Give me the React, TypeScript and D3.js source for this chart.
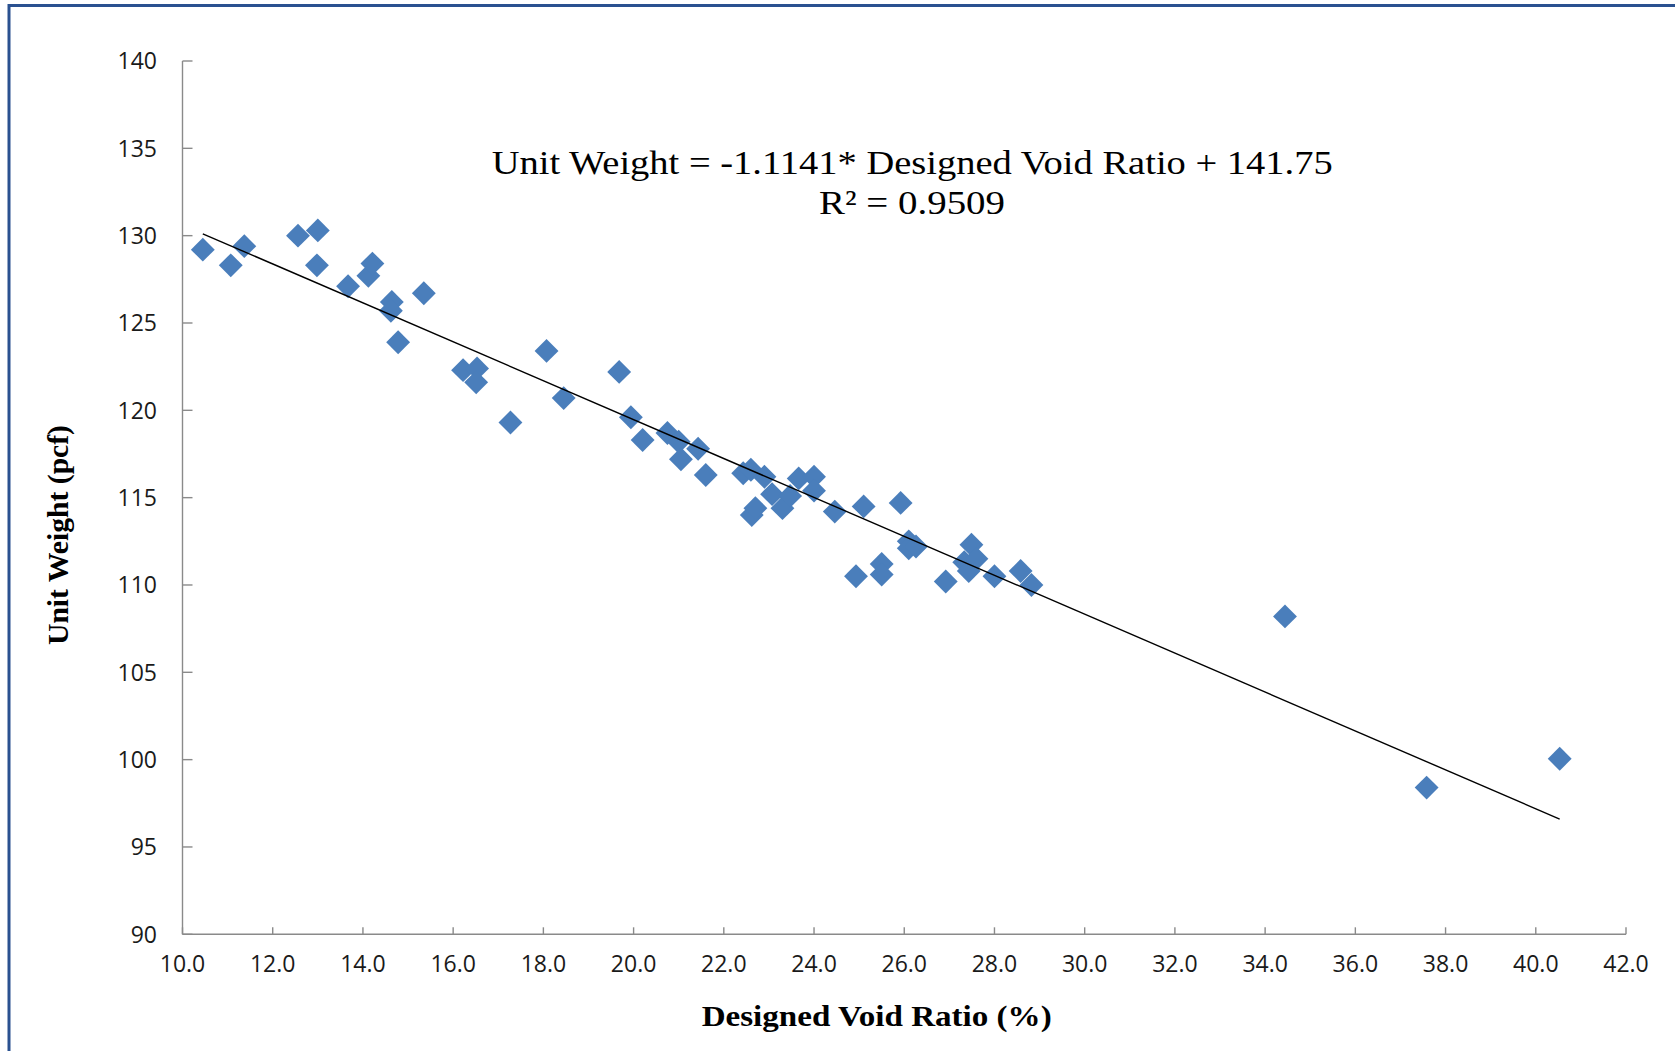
import React from "react";
import * as d3 from "d3";

// Designed void ratio (%) of each specimen
const voidRatio: number[] = [
  10.45, 11.07, 11.37, 12.56, 13.0, 12.98, 13.67, 14.12, 14.21, 14.64,
  14.62, 14.78, 15.35, 16.22, 16.53, 16.51, 17.27, 18.07, 18.45, 19.68,
  19.94, 20.2, 20.75, 21.0, 21.05, 21.43, 21.6, 22.43, 22.6, 22.9,
  22.62, 22.7, 23.07, 23.3, 23.47, 23.66, 24.0, 24.0, 24.46, 25.1,
  25.92, 24.93, 25.5, 25.5, 26.1, 26.1, 26.26, 26.92, 27.49, 27.33,
  27.43, 27.6, 28.0, 28.58, 28.82, 34.44, 37.58, 40.53,
];
// Unit weight (pcf) of each specimen
const unitWeight: number[] = [
  129.2, 128.3, 129.4, 130.0, 130.3, 128.3, 127.1, 127.7, 128.4, 126.2,
  125.7, 123.9, 126.7, 122.3, 122.4, 121.6, 119.3, 123.4, 120.7, 122.2,
  119.6, 118.3, 118.7, 118.2, 117.2, 117.8, 116.3, 116.4, 116.6, 116.2,
  114.0, 114.4, 115.2, 114.4, 115.1, 116.1, 116.2, 115.4, 114.2, 114.5,
  114.7, 110.5, 111.2, 110.6, 112.5, 112.1, 112.2, 110.2, 112.3, 111.3,
  110.8, 111.5, 110.5, 110.8, 110.0, 108.2, 98.4, 100.05,
];

// Linear trendline (from the chart's equation)
const trendSlope = -1.1141;
const trendIntercept = 141.75;
const r2 = 0.9509;

const xTicks: number[] = [10, 12, 14, 16, 18, 20, 22, 24, 26, 28, 30, 32, 34, 36, 38, 40, 42];
const yTicks: number[] = [90, 95, 100, 105, 110, 115, 120, 125, 130, 135, 140];

const xTitle = "Designed Void Ratio (%)";
const yTitle = "Unit Weight (pcf)";

const W = 1675;
const H = 1051;

export default function App() {
  const x = d3.scaleLinear().domain([10, 42]).range([182.5, 1626]);
  const y = d3.scaleLinear().domain([90, 140]).range([934.3, 61]);

  const points = voidRatio.map((v, i) => ({ v, w: unitWeight[i] }));
  const diamond = d3.symbol().type(d3.symbolSquare).size(285)()!;

  const xMin = d3.min(voidRatio)!;
  const xMax = d3.max(voidRatio)!;
  const trendData: [number, number][] = [xMin, xMax].map((v) => [v, trendSlope * v + trendIntercept]);
  const line = d3
    .line<[number, number]>()
    .x((d) => x(d[0]))
    .y((d) => y(d[1]));

  const fmtX = d3.format(".1f");
  const axisColor = "#8a8a8a";
  const serif = "'Liberation Serif', 'Times New Roman', serif";
  const sans = "'Open Sans', sans-serif";

  const eq1 = `Unit Weight = ${trendSlope}* Designed Void Ratio + ${trendIntercept}`;
  const eq2 = `R² = ${r2}`;

  return (
    <svg
      width={W}
      height={H}
      style={{ position: "absolute", left: 0, top: 0, background: "#ffffff" }}
    >
      <rect x={0} y={0} width={W} height={H} fill="#ffffff" />
      {/* frame */}
      <line x1={9} y1={5.5} x2={W} y2={5.5} stroke="#2a5190" strokeWidth={3} />
      <line x1={9} y1={4} x2={9} y2={H} stroke="#2a5190" strokeWidth={3} />

      {/* y axis */}
      <line x1={x(10)} y1={y(140)} x2={x(10)} y2={y(90)} stroke={axisColor} strokeWidth={1.4} />
      {yTicks.map((t) => (
        <g key={`yt${t}`}>
          <line x1={x(10)} y1={y(t)} x2={x(10) + 10} y2={y(t)} stroke={axisColor} strokeWidth={1.4} />
          <text
            x={157}
            y={y(t)}
            dy="0.36em"
            textAnchor="end"
            fontFamily={sans}
            fontSize={23}
            fill="#1a1a1a"
          >
            {t}
          </text>
        </g>
      ))}

      {/* x axis */}
      <line x1={x(10)} y1={y(90)} x2={x(42)} y2={y(90)} stroke={axisColor} strokeWidth={1.4} />
      {xTicks.map((t) => (
        <g key={`xt${t}`}>
          <line x1={x(t)} y1={y(90)} x2={x(t)} y2={y(90) - 7} stroke={axisColor} strokeWidth={1.4} />
          <text
            x={x(t)}
            y={972}
            textAnchor="middle"
            fontFamily={sans}
            fontSize={23}
            fill="#1a1a1a"
          >
            {fmtX(t)}
          </text>
        </g>
      ))}

      {/* points */}
      {points.map((p, i) => (
        <path
          key={`p${i}`}
          d={diamond}
          transform={`translate(${x(p.v)},${y(p.w)}) rotate(45)`}
          fill="#4a7ebb"
        />
      ))}

      {/* trendline */}
      <path d={line(trendData)!} fill="none" stroke="#000000" strokeWidth={1.4} />

      {/* equation */}
      <text
        x={491.7}
        y={174}
        fontFamily={serif}
        fontSize={34}
        textLength={841}
        lengthAdjust="spacingAndGlyphs"
        fill="#000"
      >
        {eq1}
      </text>
      <text
        x={819}
        y={213.5}
        fontFamily={serif}
        fontSize={34}
        textLength={186}
        lengthAdjust="spacingAndGlyphs"
        fill="#000"
      >
        {eq2}
      </text>

      {/* axis titles */}
      <text
        x={701.7}
        y={1026}
        fontFamily={serif}
        fontWeight="bold"
        fontSize={29}
        textLength={350}
        lengthAdjust="spacingAndGlyphs"
        fill="#000"
      >
        {xTitle}
      </text>
      <text
        transform="translate(68,535) rotate(-90)"
        textAnchor="middle"
        fontFamily={serif}
        fontWeight="bold"
        fontSize={29}
        textLength={220}
        lengthAdjust="spacingAndGlyphs"
        fill="#000"
      >
        {yTitle}
      </text>
    </svg>
  );
}
